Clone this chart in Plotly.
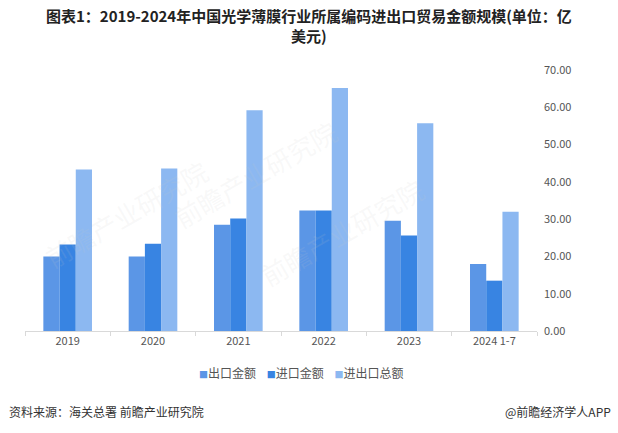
import plotly.graph_objects as go

# 数据 (单位: 亿美元)
years = ["2019", "2020", "2021", "2022", "2023", "2024 1-7"]
export_amt = [20.0, 20.0, 28.5, 32.3, 29.6, 18.0]
import_amt = [23.2, 23.4, 30.2, 32.3, 25.6, 13.5]
total_amt = [43.3, 43.6, 59.2, 65.2, 55.7, 32.0]

names = ["出口金额", "进口金额", "进出口总额"]
colors = ["#5b96e6", "#3884e2", "#8cb8f1"]

font_cn = "Noto Sans CJK SC"

fig = go.Figure()
for name, vals, c in zip(names, [export_amt, import_amt, total_amt], colors):
    fig.add_trace(go.Bar(x=years, y=vals, name=name, marker_color=c,
                         marker_line_width=0))

fig.update_layout(
    width=618, height=433,
    paper_bgcolor="white", plot_bgcolor="white",
    margin=dict(l=25, r=81, t=70, b=102),
    barmode="group", bargap=0.43, bargroupgap=0,
    font=dict(family=font_cn, size=11, color="#555555"),
    showlegend=False,
)

fig.update_xaxes(showline=True, linecolor="#d9d9d9", linewidth=1,
                 ticks="outside", ticklen=4, tickcolor="#d9d9d9",
                 tickson="boundaries", showgrid=False,
                 tickfont=dict(size=11, color="#555555"))
fig.update_yaxes(side="right", range=[0, 70], dtick=10, tickformat=".2f",
                 showgrid=False, zeroline=False, showline=False,
                 tickfont=dict(size=11, color="#555555"), ticklabelstandoff=6)

# 标题
fig.add_annotation(
    text="<b>图表1：2019-2024年中国光学薄膜行业所属编码进出口贸易金额规模(单位：亿<br>美元)</b>",
    xref="paper", yref="paper", x=0.5, y=1, xshift=28, yshift=22,
    xanchor="center", yanchor="bottom", showarrow=False,
    font=dict(family=font_cn, size=15, color="#222222"))

# 图例 (文字形式)
legend_txt = "    ".join(
    f"<span style='color:{c};font-size:9px'>■</span>{n}" for n, c in zip(names, colors))
fig.add_annotation(text=legend_txt, xref="paper", yref="paper",
                   x=0.5, y=0, xshift=20, yshift=-41,
                   xanchor="center", yanchor="middle", showarrow=False,
                   font=dict(family=font_cn, size=12, color="#555555"))

# 来源
fig.add_annotation(text="资料来源：海关总署 前瞻产业研究院", xref="paper", yref="paper",
                   x=0, y=0, xshift=-18, yshift=-80, xanchor="left", yanchor="middle",
                   showarrow=False,
                   font=dict(family=font_cn, size=12, color="#333333"))
fig.add_annotation(text="@前瞻经济学人APP", xref="paper", yref="paper",
                   x=1, y=0, xshift=76, yshift=-80, xanchor="right", yanchor="middle",
                   showarrow=False,
                   font=dict(family=font_cn, size=12, color="#333333"))

# 水印
for wx, wy in [(0.45, 0.85), (0.62, 0.38), (0.02, 0.45)]:
    fig.add_annotation(text="前瞻产业研究院", xref="paper", yref="paper",
                       x=wx, y=wy, showarrow=False, textangle=-30,
                       font=dict(family=font_cn, size=26, color="rgba(200,200,200,0.12)"))

fig.write_html("out.html", config={"displayModeBar": False},
               post_script="document.body.style.margin='0';")
